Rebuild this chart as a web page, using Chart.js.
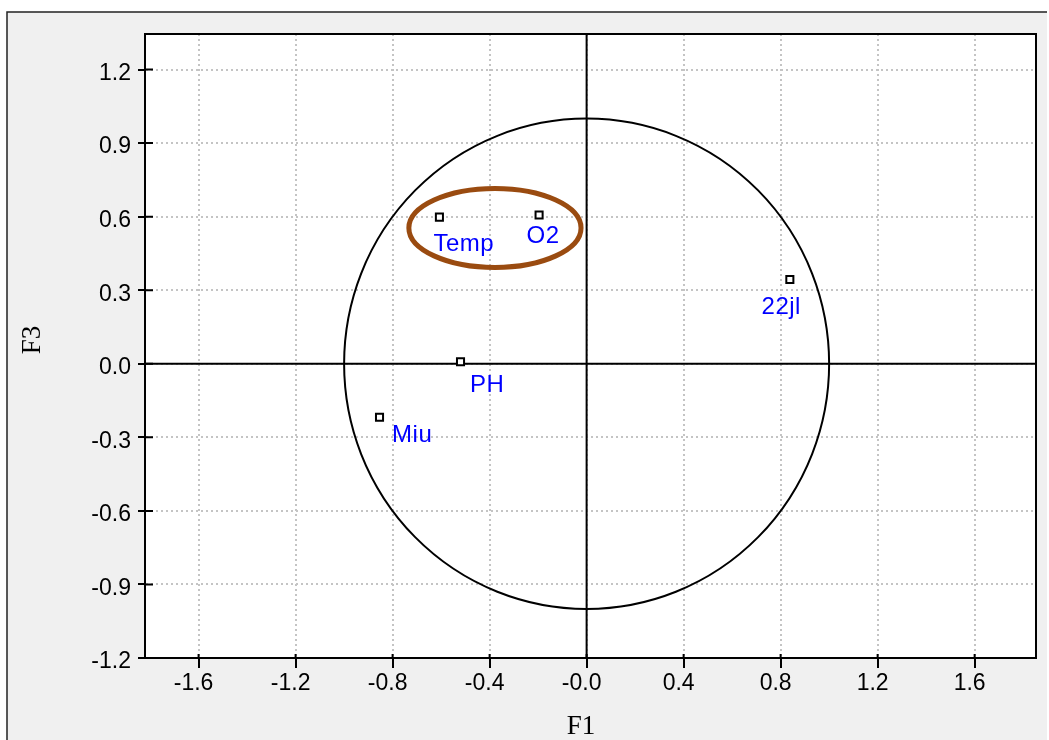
<!DOCTYPE html>
<html><head><meta charset="utf-8">
<script src="https://cdn.jsdelivr.net/npm/chart.js@4/dist/chart.umd.min.js"></script>
<style>html,body{margin:0;padding:0;background:#fff}canvas{display:block}</style>
</head><body>
<canvas id="c" width="1049" height="740"></canvas>
<script>
// ---- data ----
const varNames = ['Temp', 'O2', '22jl', 'PH', 'Miu'];
const f1Values = [-0.607, -0.196, 0.838, -0.520, -0.854];
const f3Values = [0.598, 0.607, 0.344, 0.008, -0.218];
const xTickValues = [-1.6, -1.2, -0.8, -0.4, 0, 0.4, 0.8, 1.2, 1.6];
const xTickLabels = ['-1.6', '-1.2', '-0.8', '-0.4', '-0.0', '0.4', '0.8', '1.2', '1.6'];
const yTickValues = [-1.2, -0.9, -0.6, -0.3, 0, 0.3, 0.6, 0.9, 1.2];
const yTickLabels = ['-1.2', '-0.9', '-0.6', '-0.3', '0.0', '0.3', '0.6', '0.9', '1.2'];
const xRange = [-1.821, 1.853];
const yRange = [-1.2, 1.345];
const circleRadius = 1;
const highlightEllipse = { cx: -0.378, cy: 0.554, rx: 0.355, ry: 0.161 };
const xTitle = 'F1';
const yTitle = 'F3';

// ---- style ----
const labelOffsets = [[-6, 33.5], [-12.5, 28.5], [-28.3, 35], [9.5, 30], [12.6, 25]];
const tickFont = { family: '"Liberation Sans", Arial, sans-serif', size: 23 };
const titleFontCss = '27px "Liberation Serif", "Times New Roman", serif';

function labelFor(values, labels) {
  return (v) => {
    const i = values.findIndex(t => Math.abs(t - v) < 1e-9);
    return i >= 0 ? labels[i] : '';
  };
}

const decor = {
  id: 'decor',
  beforeDraw(chart) {
    const { ctx, chartArea: a } = chart;
    ctx.save();
    ctx.fillStyle = '#fff';
    ctx.fillRect(0, 0, chart.width, chart.height);
    ctx.fillStyle = '#f0f0f0';
    ctx.fillRect(7, 12, 1040, 740);
    ctx.strokeStyle = '#222';
    ctx.lineWidth = 1.5;
    ctx.beginPath();
    ctx.moveTo(7, 740); ctx.lineTo(7, 12); ctx.lineTo(1047, 12);
    ctx.stroke();
    ctx.fillStyle = '#fff';
    ctx.fillRect(a.left, a.top, a.right - a.left, a.bottom - a.top);
    ctx.restore();
  },
  beforeDatasetsDraw(chart) {
    const { ctx, chartArea: a, scales: { x, y } } = chart;
    ctx.save();
    const x0 = x.getPixelForValue(0), y0 = y.getPixelForValue(0);
    ctx.strokeStyle = '#000';
    ctx.lineWidth = 2;
    ctx.beginPath();
    ctx.moveTo(x0, a.top); ctx.lineTo(x0, a.bottom);
    ctx.moveTo(a.left, y0); ctx.lineTo(a.right, y0);
    ctx.stroke();
    const rx = x.getPixelForValue(circleRadius) - x0;
    const ry = y0 - y.getPixelForValue(circleRadius);
    ctx.lineWidth = 2;
    ctx.beginPath();
    ctx.ellipse(x0, y0, rx, ry, 0, 0, Math.PI * 2);
    ctx.stroke();
    // inward tick stubs
    ctx.lineWidth = 2;
    ctx.beginPath();
    xTickValues.forEach(v => { const p = x.getPixelForValue(v); ctx.moveTo(p, a.bottom); ctx.lineTo(p, a.bottom - 4); });
    yTickValues.forEach(v => { const p = y.getPixelForValue(v); if (p <= a.bottom) { ctx.moveTo(a.left, p); ctx.lineTo(a.left + 8, p); } });
    ctx.stroke();
    ctx.lineWidth = 2;
    ctx.strokeRect(a.left, a.top, a.right - a.left, a.bottom - a.top);
    ctx.restore();
  },
  afterDatasetsDraw(chart) {
    const { ctx, scales: { x, y } } = chart;
    ctx.save();
    const e = highlightEllipse;
    const cx = x.getPixelForValue(e.cx), cy = y.getPixelForValue(e.cy);
    const rx = x.getPixelForValue(e.cx + e.rx) - cx;
    const ry = cy - y.getPixelForValue(e.cy + e.ry);
    ctx.strokeStyle = '#9a4b10';
    ctx.lineWidth = 5;
    ctx.beginPath();
    ctx.ellipse(cx, cy, rx, ry, 0, 0, Math.PI * 2);
    ctx.stroke();

    const meta = chart.getDatasetMeta(0);
    ctx.font = '24px "Liberation Sans", Arial, sans-serif';
    ctx.fillStyle = '#0000ff';
    ctx.textAlign = 'left';
    ctx.textBaseline = 'alphabetic';
    try { ctx.letterSpacing = '0.5px'; } catch (err) {}
    meta.data.forEach((pt, i) => {
      const [dx, dy] = labelOffsets[i];
      ctx.fillText(varNames[i], pt.x + dx, pt.y + dy);
    });
    try { ctx.letterSpacing = '0px'; } catch (err) {}

    // axis titles
    ctx.fillStyle = '#000';
    ctx.font = titleFontCss;
    ctx.textAlign = 'center';
    ctx.textBaseline = 'middle';
    ctx.fillText(xTitle, 581, 727);
    ctx.translate(33, 340);
    ctx.rotate(-Math.PI / 2);
    ctx.fillText(yTitle, 0, 0);
    ctx.restore();
  }
};

new Chart(document.getElementById('c'), {
  type: 'scatter',
  data: {
    datasets: [{
      data: f1Values.map((v, i) => ({ x: v, y: f3Values[i] })),
      pointStyle: 'rect',
      pointRadius: 5,
      pointHoverRadius: 5,
      pointBackgroundColor: '#fff',
      pointBorderColor: '#000',
      pointBorderWidth: 2,
      showLine: false
    }]
  },
  options: {
    responsive: false,
    animation: false,
    devicePixelRatio: 1,
    layout: { padding: { top: 34, right: 13, left: 0, bottom: 0 } },
    plugins: { legend: { display: false }, tooltip: { enabled: false } },
    scales: {
      x: {
        type: 'linear',
        min: xRange[0], max: xRange[1],
        afterBuildTicks: s => { s.ticks = xTickValues.map(v => ({ value: v })); },
        afterFit: s => { s.height = 82; },
        ticks: { callback: labelFor(xTickValues, xTickLabels), font: tickFont, color: '#000', padding: 2, labelOffset: -5, maxRotation: 0, autoSkip: false },
        grid: { color: '#c4c4c4', lineWidth: 2, tickColor: '#000', tickWidth: 2, tickLength: 10 },
        border: { display: true, color: '#000', width: 2, dash: [2, 3] },
        title: { display: false }
      },
      y: {
        type: 'linear',
        min: yRange[0], max: yRange[1],
        afterBuildTicks: s => { s.ticks = yTickValues.map(v => ({ value: v })); },
        afterFit: s => { s.width = 145; },
        ticks: { callback: labelFor(yTickValues, yTickLabels), font: tickFont, color: '#000', padding: 7, labelOffset: 4, autoSkip: false },
        grid: { color: '#c4c4c4', lineWidth: 2, tickColor: '#000', tickWidth: 2, tickLength: 7 },
        border: { display: true, color: '#000', width: 2, dash: [2, 3] },
        title: { display: false }
      }
    }
  },
  plugins: [decor]
});
</script>
</body></html>
